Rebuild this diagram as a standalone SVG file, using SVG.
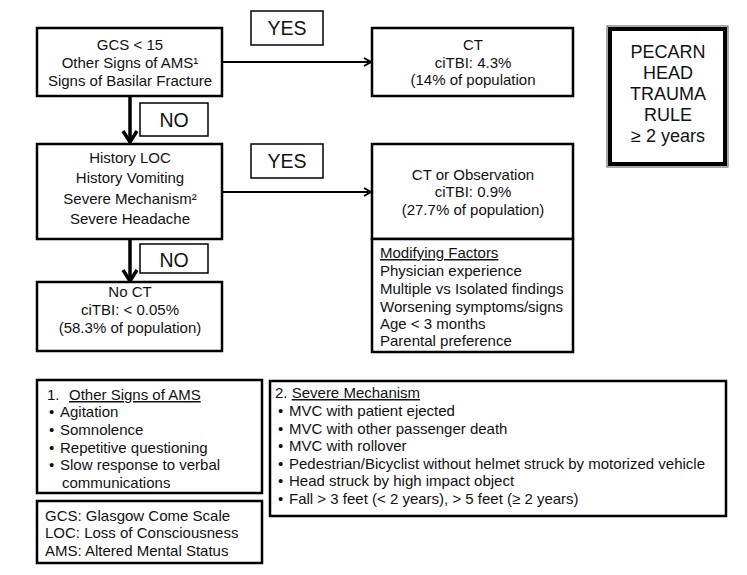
<svg xmlns="http://www.w3.org/2000/svg" width="747" height="575" viewBox="0 0 747 575">
<defs>
<style>
text{font-family:"Liberation Sans",Arial,sans-serif;fill:#111;}
.box{fill:#fff;stroke:#000;stroke-width:2.5;}
.lbl{fill:#fff;stroke:#000;stroke-width:1.5;}
.t{font-size:15px;text-anchor:middle;}
.l{font-size:15px;}
.big{font-size:18px;text-anchor:middle;}
.yn{font-size:19.5px;text-anchor:middle;}
.u{text-decoration:underline;}
.h{stroke:#000;stroke-width:2;fill:none;}
.v{stroke:#000;stroke-width:3.5;fill:none;}
</style>
<marker id="ah" markerWidth="10" markerHeight="10" refX="8" refY="5" orient="auto" markerUnits="userSpaceOnUse">
<path d="M1,1 L8,5 L1,9" fill="none" stroke="#000" stroke-width="2"/>
</marker>
</defs>
<rect width="747" height="575" fill="#fff"/>

<g id="connectors">
<line class="h" x1="222" y1="62" x2="371" y2="62" marker-end="url(#ah)"/>
<line class="h" x1="222" y1="192" x2="371" y2="192" marker-end="url(#ah)"/>
<line class="v" x1="130" y1="97" x2="130" y2="141"/>
<path class="v" d="M123,131 L130,142 L137,131" stroke-width="3"/>
<line class="v" x1="130" y1="240" x2="130" y2="280"/>
<path class="v" d="M123,270 L130,281 L137,270" stroke-width="3"/>
</g>

<g id="node-gcs">
<rect class="box" x="37" y="28" width="185" height="68"/>
<text class="t" x="130" y="50">GCS &lt; 15</text>
<text class="t" x="130" y="68">Other Signs of AMS¹</text>
<text class="t" x="130" y="86">Signs of Basilar Fracture</text>
</g>

<g id="label-yes1">
<rect class="lbl" x="251" y="11" width="72" height="34"/>
<text class="yn" x="287" y="35">YES</text>
</g>

<g id="node-ct">
<rect class="box" x="372" y="28" width="201" height="68"/>
<text class="t" x="473" y="50">CT</text>
<text class="t" x="473" y="68">ciTBI: 4.3%</text>
<text class="t" x="473" y="85">(14% of population</text>
</g>

<g id="node-title">
<rect x="607" y="26" width="121" height="141" fill="#fff" stroke="#555" stroke-width="1"/>
<rect x="610" y="29" width="115" height="135" fill="none" stroke="#000" stroke-width="4"/>
<text class="big" x="668" y="58">PECARN</text>
<text class="big" x="668" y="79">HEAD</text>
<text class="big" x="668" y="100">TRAUMA</text>
<text class="big" x="668" y="121">RULE</text>
<text class="big" x="668" y="142">≥ 2 years</text>
</g>

<g id="label-no1">
<rect class="lbl" x="140" y="103" width="68" height="33"/>
<text class="yn" x="174" y="127">NO</text>
</g>

<g id="node-history">
<rect class="box" x="37" y="144" width="185" height="95"/>
<text class="t" x="130" y="163">History LOC</text>
<text class="t" x="130" y="183">History Vomiting</text>
<text class="t" x="130" y="204">Severe Mechanism²</text>
<text class="t" x="130" y="224">Severe Headache</text>
</g>

<g id="label-yes2">
<rect class="lbl" x="251" y="144" width="72" height="34"/>
<text class="yn" x="287" y="168">YES</text>
</g>

<g id="node-ctobs">
<rect class="box" x="372" y="144" width="201" height="95"/>
<text class="t" x="473" y="180">CT or Observation</text>
<text class="t" x="473" y="197">ciTBI: 0.9%</text>
<text class="t" x="473" y="215">(27.7% of population)</text>
</g>

<g id="node-modifying">
<rect class="box" x="372" y="239" width="201" height="113"/>
<text class="l u" x="380" y="258">Modifying Factors</text>
<text class="l" x="380" y="276">Physician experience</text>
<text class="l" x="380" y="294">Multiple vs Isolated findings</text>
<text class="l" x="380" y="312">Worsening symptoms/signs</text>
<text class="l" x="380" y="329">Age &lt; 3 months</text>
<text class="l" x="380" y="346">Parental preference</text>
</g>

<g id="label-no2">
<rect class="lbl" x="140" y="244" width="68" height="29"/>
<text class="yn" x="174" y="267">NO</text>
</g>

<g id="node-noct">
<rect class="box" x="37" y="282" width="185" height="69"/>
<text class="t" x="130" y="297">No CT</text>
<text class="t" x="130" y="315">ciTBI: &lt; 0.05%</text>
<text class="t" x="130" y="333">(58.3% of population)</text>
</g>

<g id="node-ams">
<rect class="box" x="37" y="380" width="225" height="113"/>
<text class="l" x="47" y="400">1.</text>
<text class="l u" x="69" y="400">Other Signs of AMS</text>
<text class="l" x="49" y="417">•</text><text class="l" x="60" y="417">Agitation</text>
<text class="l" x="49" y="435">•</text><text class="l" x="60" y="435">Somnolence</text>
<text class="l" x="49" y="453">•</text><text class="l" x="60" y="453">Repetitive questioning</text>
<text class="l" x="49" y="470">•</text><text class="l" x="60" y="470">Slow response to verbal</text>
<text class="l" x="62" y="488">communications</text>
</g>

<g id="node-abbrev">
<rect class="box" x="37" y="501" width="225" height="62"/>
<text class="l" x="45" y="521">GCS: Glasgow Come Scale</text>
<text class="l" x="45" y="538">LOC: Loss of Consciousness</text>
<text class="l" x="45" y="556">AMS: Altered Mental Status</text>
</g>

<g id="node-mechanism">
<rect class="box" x="270" y="381" width="456" height="135"/>
<text class="l" x="275" y="398">2. <tspan class="u">Severe Mechanism</tspan></text>
<text class="l" x="278" y="416">•</text><text class="l" x="289" y="416">MVC with patient ejected</text>
<text class="l" x="278" y="434">•</text><text class="l" x="289" y="434">MVC with other passenger death</text>
<text class="l" x="278" y="451">•</text><text class="l" x="289" y="451">MVC with rollover</text>
<text class="l" x="278" y="469">•</text><text class="l" x="289" y="469">Pedestrian/Bicyclist without helmet struck by motorized vehicle</text>
<text class="l" x="278" y="486">•</text><text class="l" x="289" y="486">Head struck by high impact object</text>
<text class="l" x="278" y="504">•</text><text class="l" x="289" y="504">Fall &gt; 3 feet (&lt; 2 years), &gt; 5 feet (≥ 2 years)</text>
</g>
</svg>
